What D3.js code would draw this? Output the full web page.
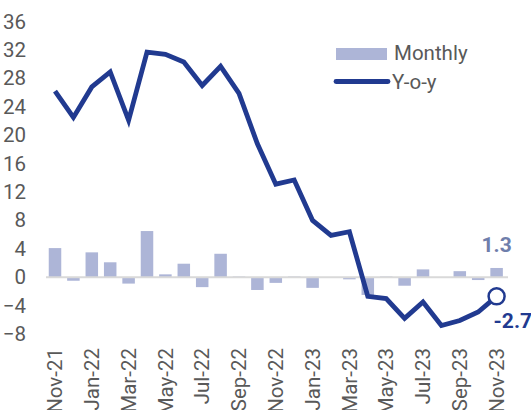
<!DOCTYPE html>
<html>
<head>
<meta charset="utf-8">
<script src="https://cdn.jsdelivr.net/npm/d3@7"></script>
<style>
  body { margin: 0; background: #fff; }
  svg { display: block; font-family: Roboto, "Open Sans", sans-serif; }
</style>
</head>
<body>
<div class="chart"></div>
<script>
// months Nov-21 .. Nov-23
var months = ["Nov-21","Dec-21","Jan-22","Feb-22","Mar-22","Apr-22","May-22","Jun-22","Jul-22","Aug-22","Sep-22","Oct-22",
  "Nov-22","Dec-22","Jan-23","Feb-23","Mar-23","Apr-23","May-23","Jun-23","Jul-23","Aug-23","Sep-23","Oct-23","Nov-23"];

// monthly change, %
var monthly = [4.1, -0.5, 3.5, 2.1, -0.9, 6.5, 0.4, 1.9, -1.4, 3.3, 0.1, -1.8,
  -0.8, 0.1, -1.5, 0.0, -0.3, -2.5, 0.1, -1.2, 1.1, 0.0, 0.85, -0.4, 1.3];

// year-on-year, %
var yoy = [26.2, 22.5, 26.8, 28.9, 22.1, 31.7, 31.4, 30.3, 27.0, 29.7, 25.9, 18.8,
  13.1, 13.7, 8.0, 5.9, 6.4, -2.7, -3.0, -5.8, -3.5, -6.8, -6.1, -4.9, -2.7];

var yTicks = [-8, -4, 0, 4, 8, 12, 16, 20, 24, 28, 32, 36];
var xTickLabels = months.filter((m, i) => i % 2 === 0);

var svgWidth = 531;
var svgHeight = 410;

var barColor = "#adb5d7";
var lineColor = "#213a90";
var fontSize = 20.5;

var svg = d3.select(".chart")
  .append("svg")
  .attr("width", svgWidth)
  .attr("height", svgHeight);

var x = d3.scaleBand()
  .domain(months)
  .range([45.8, 505.8])
  .paddingInner(0.32)
  .paddingOuter(0.16);

var y = d3.scaleLinear()
  .domain([-8, 36])
  .range([334, 21.6]);

var xc = d => x(d) + x.bandwidth() / 2;

// y axis labels
var leftAxis = d3.axisLeft(y).tickValues(yTicks).tickSize(0).tickPadding(0);
var gy = svg.append("g")
  .attr("transform", "translate(26,0)")
  .call(leftAxis);
gy.select(".domain").remove();
gy.selectAll("text")
  .attr("font-size", fontSize)
  .attr("fill", "#595959")
  .attr("font-family", "Roboto, sans-serif");

// bars
svg.append("g").selectAll("rect")
  .data(monthly)
  .enter()
  .append("rect")
  .attr("x", (d, i) => x(months[i]))
  .attr("width", x.bandwidth())
  .attr("y", d => y(Math.max(0, d)))
  .attr("height", d => Math.abs(y(d) - y(0)))
  .attr("fill", barColor);

// zero line
svg.append("line")
  .attr("x1", 46)
  .attr("x2", 508)
  .attr("y1", y(0))
  .attr("y2", y(0))
  .attr("stroke", "#d9d9d9")
  .attr("stroke-width", 2);

// x axis labels (rotated)
var bottomAxis = d3.axisBottom(x).tickValues(xTickLabels).tickSize(0).tickPadding(0);
var gx = svg.append("g")
  .attr("transform", "translate(0,348)")
  .call(bottomAxis);
gx.select(".domain").remove();
gx.selectAll("text")
  .attr("font-size", fontSize)
  .attr("fill", "#595959")
  .attr("font-family", "Roboto, sans-serif")
  .attr("transform", "rotate(-90)")
  .attr("text-anchor", "end")
  .attr("x", 0)
  .attr("y", 0)
  .attr("dy", "0.35em");

// y-o-y line
var line = d3.line()
  .x((d, i) => xc(months[i]))
  .y(d => y(d));

svg.append("path")
  .datum(yoy)
  .attr("d", line)
  .attr("fill", "none")
  .attr("stroke", lineColor)
  .attr("stroke-width", 4.8)
  .attr("stroke-linejoin", "miter");

// end marker
var last = yoy.length - 1;
svg.append("circle")
  .attr("cx", xc(months[last]))
  .attr("cy", y(yoy[last]))
  .attr("r", 8)
  .attr("fill", "#fff")
  .attr("stroke", lineColor)
  .attr("stroke-width", 2.5);

// value labels
svg.append("text")
  .attr("x", xc(months[last]))
  .attr("y", y(monthly[last]) - 23)
  .attr("text-anchor", "middle")
  .attr("dy", "0.35em")
  .attr("font-size", 21)
  .attr("font-weight", "bold")
  .attr("fill", "#6f7eab")
  .text(monthly[last].toFixed(1));

svg.append("text")
  .attr("x", xc(months[last]) - 3)
  .attr("y", y(yoy[last]) + 24)
  .attr("dy", "0.35em")
  .attr("font-size", 21)
  .attr("font-weight", "bold")
  .attr("fill", lineColor)
  .text(yoy[last].toFixed(1));

// legend
var legend = svg.append("g");
legend.append("rect")
  .attr("x", 336)
  .attr("y", 48)
  .attr("width", 51)
  .attr("height", 12)
  .attr("fill", barColor);
legend.append("text")
  .attr("x", 394)
  .attr("y", 53)
  .attr("dy", "0.35em")
  .attr("font-size", fontSize)
  .attr("fill", "#595959")
  .text("Monthly");
legend.append("line")
  .attr("x1", 336)
  .attr("x2", 388)
  .attr("y1", 81.5)
  .attr("y2", 81.5)
  .attr("stroke", lineColor)
  .attr("stroke-width", 4.8)
  .attr("stroke-linecap", "round");
legend.append("text")
  .attr("x", 392)
  .attr("y", 82)
  .attr("dy", "0.35em")
  .attr("font-size", fontSize)
  .attr("fill", "#595959")
  .text("Y-o-y");
</script>
</body>
</html>
